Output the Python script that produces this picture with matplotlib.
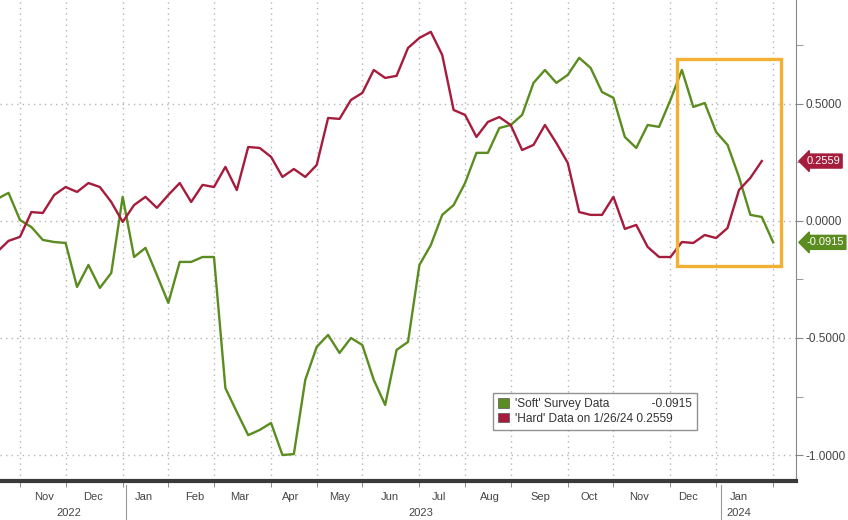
import matplotlib
matplotlib.use('Agg')
import matplotlib.pyplot as plt
import matplotlib.dates as mdates
import matplotlib.transforms as mtransforms
from matplotlib.patches import Rectangle, Patch
from matplotlib.ticker import FixedLocator, MultipleLocator, FuncFormatter
import pandas as pd

plt.rcParams['font.family'] = ['Liberation Sans Narrow', 'Liberation Sans', 'DejaVu Sans']

# weekly z-scores
SOFT_DATES = pd.date_range('2022-10-14', '2024-02-02', freq='W-FRI')
SOFT = [0.094, 0.120, 0.004, -0.026, -0.081, -0.090, -0.094, -0.282, -0.188, -0.286,
        -0.222, 0.103, -0.154, -0.115, -0.231, -0.350, -0.175, -0.175, -0.154, -0.154,
        -0.714, -0.816, -0.915, -0.893, -0.863, -1.000, -0.996, -0.679, -0.538, -0.487,
        -0.564, -0.500, -0.530, -0.679, -0.786, -0.551, -0.517, -0.188, -0.103, 0.026,
        0.068, 0.162, 0.291, 0.291, 0.397, 0.410, 0.453, 0.590, 0.645, 0.590,
        0.624, 0.697, 0.654, 0.551, 0.526, 0.359, 0.312, 0.410, 0.402, 0.517,
        0.645, 0.487, 0.504, 0.380, 0.325, 0.188, 0.026, 0.017, -0.0915]

HARD_DATES = pd.date_range('2022-10-14', '2024-01-26', freq='W-FRI')
HARD = [-0.132, -0.085, -0.068, 0.038, 0.034, 0.111, 0.145, 0.124, 0.162, 0.145,
        0.081, -0.004, 0.068, 0.103, 0.056, 0.111, 0.162, 0.081, 0.154, 0.145,
        0.231, 0.132, 0.316, 0.312, 0.274, 0.188, 0.222, 0.188, 0.239, 0.440,
        0.436, 0.517, 0.547, 0.645, 0.611, 0.620, 0.739, 0.782, 0.808, 0.709,
        0.474, 0.453, 0.359, 0.423, 0.444, 0.410, 0.303, 0.325, 0.410, 0.333,
        0.248, 0.038, 0.026, 0.026, 0.103, -0.034, -0.017, -0.111, -0.154, -0.154,
        -0.090, -0.094, -0.060, -0.073, -0.030, 0.132, 0.184, 0.2559]

SOFT_LABEL = "'Soft' Survey Data"
HARD_LABEL = "'Hard' Data on 1/26/24"

MONTHS = ['Nov', 'Dec', 'Jan', 'Feb', 'Mar', 'Apr', 'May', 'Jun', 'Jul', 'Aug',
          'Sep', 'Oct', 'Nov', 'Dec', 'Jan']
YEARS = ['2022', '2023', '2024']
GRID_DATES = ['2022-10-28', '2022-11-25', '2022-12-30', '2023-01-27', '2023-02-24',
              '2023-03-31', '2023-04-28', '2023-05-26', '2023-06-30', '2023-07-28',
              '2023-08-25', '2023-09-29', '2023-10-27', '2023-12-01', '2023-12-29',
              '2024-02-02']

GREEN = '#5b8c1f'
RED = '#a51c3c'
ORANGE = '#f2b134'

fig = plt.figure(figsize=(8.48, 5.2), dpi=100)
ax = fig.add_axes([0.0, 0.075, 0.9387, 0.925])

ax.plot(SOFT_DATES, SOFT, color=GREEN, lw=1.7, zorder=3)
ax.plot(HARD_DATES, HARD, color=RED, lw=1.7, zorder=3)

ax.set_xlim(pd.Timestamp('2022-10-15 18:00'), pd.Timestamp('2024-02-16'))
ax.set_ylim(-1.111, 0.944)

# highlight box around the latest divergence
x0 = mdates.date2num(pd.Timestamp('2023-12-05'))
x1 = mdates.date2num(pd.Timestamp('2024-02-07'))
ax.add_patch(Rectangle((x0, -0.192), x1 - x0, 0.884, fill=False,
                       edgecolor=ORANGE, lw=2.4, zorder=4))

# x axis: month labels mid-month, ticks/grid at the weekly month marks
month_pos = pd.date_range('2022-11-01', '2024-01-01', freq='MS') + pd.Timedelta(days=11)
ax.set_xticks(mdates.date2num(month_pos))
ax.set_xticklabels(MONTHS)
ax.xaxis.set_minor_locator(FixedLocator(mdates.date2num(pd.to_datetime(GRID_DATES))))
ax.tick_params(axis='x', which='major', length=0, pad=8, labelsize=8, labelcolor='#444444')
ax.tick_params(axis='x', which='minor', length=4, direction='out', color='#777777')
ax.grid(True, axis='x', which='minor', ls=(0, (1, 3)), color='#b5b5b5', lw=1)

trans = mtransforms.blended_transform_factory(ax.transData, ax.transAxes)
year_pos = [pd.Timestamp('2022-11-27'), pd.Timestamp('2023-07-01'), pd.Timestamp('2024-01-12')]
for d, yr in zip(year_pos, YEARS):
    ax.text(d, -0.067, yr, transform=trans, ha='center', va='center',
            fontsize=8, color='#444444', clip_on=False)
for d in [pd.Timestamp('2023-01-01'), pd.Timestamp('2024-01-01')]:
    ax.plot([d, d], [-0.008, -0.085], transform=trans, color='#999999', lw=0.8,
            clip_on=False)

# y axis on the right
ax.yaxis.tick_right()
ax.set_yticks([-1.0, -0.5, 0.0, 0.5])
ax.yaxis.set_major_formatter(FuncFormatter(lambda v, p: f'{v:.4f}'))
ax.yaxis.set_minor_locator(MultipleLocator(0.25))
ax.tick_params(axis='y', which='both', direction='out', length=5, color='#888888',
               labelsize=8.5, labelcolor='#444444', pad=2)
ax.grid(True, axis='y', which='major', ls=(0, (1, 3)), color='#b5b5b5', lw=1)

for s in ['top', 'left']:
    ax.spines[s].set_visible(False)
ax.spines['right'].set_color('#888888')
ax.spines['bottom'].set_color('#3a3a3a')
ax.spines['bottom'].set_linewidth(3)

# last-value tags
ytrans = mtransforms.blended_transform_factory(ax.transAxes, ax.transData)
for val, col in [(HARD[-1], RED), (SOFT[-1], GREEN)]:
    ax.text(1.013, val, f'{val:.4f}', transform=ytrans, ha='left', va='center',
            fontsize=8, color='white', clip_on=False, zorder=5,
            bbox=dict(boxstyle='larrow,pad=0.18', fc=col, ec=col))

handles = [Patch(facecolor=GREEN, edgecolor='#555555', lw=0.5),
           Patch(facecolor=RED, edgecolor='#555555', lw=0.5)]
labels = [f"{SOFT_LABEL}             {SOFT[-1]:.4f}",
          f"{HARD_LABEL} {HARD[-1]:.4f}"]
leg = ax.legend(handles, labels, loc='lower left', bbox_to_anchor=(0.619, 0.106),
                fontsize=8.6, frameon=True, fancybox=False, borderaxespad=0,
                handlelength=0.9, handleheight=0.9, handletextpad=0.5,
                labelspacing=0.2, borderpad=0.45)
leg.get_frame().set_edgecolor('#777777')
leg.get_frame().set_linewidth(1)
for t in leg.get_texts():
    t.set_color('#333333')

fig.savefig('out.png', dpi=100)
